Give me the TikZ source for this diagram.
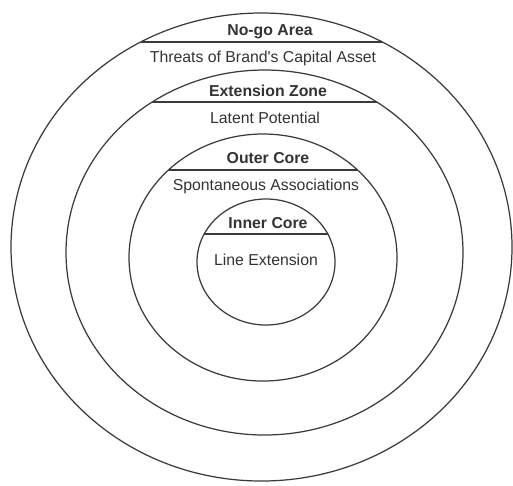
\documentclass[tikz,border=0pt]{standalone}
\usepackage{fontspec}
\setmainfont{Liberation Sans}[Ligatures=TeXOff]
\usepackage{tikz}

\begin{document}
\begin{tikzpicture}[
		x=0.02cm, y=-0.02cm,
		ring/.style={
			draw=ringcol, line width=0.7pt
		},
		zonehead/.style={
			font=\fontsize{9}{11}\selectfont\bfseries,
			text=textcol, inner sep=0pt
		},
		zonetext/.style={
			font=\fontsize{9}{11}\selectfont,
			text=textcol, inner sep=0pt
		}
		]
		
		\definecolor{ringcol}{HTML}{3A3A3A}
		\definecolor{textcol}{HTML}{333333}
		
		\useasboundingbox (0,0) rectangle (513,485);
		
		\draw[ring] (261.5,247) ellipse [x radius=250.5, y radius=234];
		\draw[ring] (264.5,252.5) ellipse [x radius=198.5, y radius=182.5];
		\draw[ring] (263,257.5) ellipse [x radius=134, y radius=123.5];
		\draw[ring] (266,262) ellipse [x radius=69, y radius=63];
		
		\begin{scope}
			\clip (261.5,247) ellipse [x radius=250.5, y radius=234];
			\draw[ring] (0,42) -- (513,42);
		\end{scope}
		\begin{scope}
			\clip (264.5,252.5) ellipse [x radius=198.5, y radius=182.5];
			\draw[ring] (0,102) -- (513,102);
		\end{scope}
		\begin{scope}
			\clip (263,257.5) ellipse [x radius=134, y radius=123.5];
			\draw[ring] (0,170) -- (513,170);
		\end{scope}
		\begin{scope}
			\clip (266,262) ellipse [x radius=69, y radius=63];
			\draw[ring] (0,234) -- (513,234);
		\end{scope}
		
		\node[zonehead] (nogo)      at (270, 32)  {No-go Area};
		\node[zonetext] (threats)   at (263, 58)  {Threats of Brand's Capital Asset};
		\node[zonehead] (extzone)   at (268, 91)  {Extension Zone};
		\node[zonetext] (latent)    at (265, 118) {Latent Potential};
		\node[zonehead] (outercore) at (268, 158) {Outer Core};
		\node[zonetext] (spont)     at (266, 186) {Spontaneous Associations};
		\node[zonehead] (innercore) at (268, 223) {Inner Core};
		\node[zonetext] (lineext)   at (266, 260) {Line Extension};
		
	\end{tikzpicture}
\end{document}
